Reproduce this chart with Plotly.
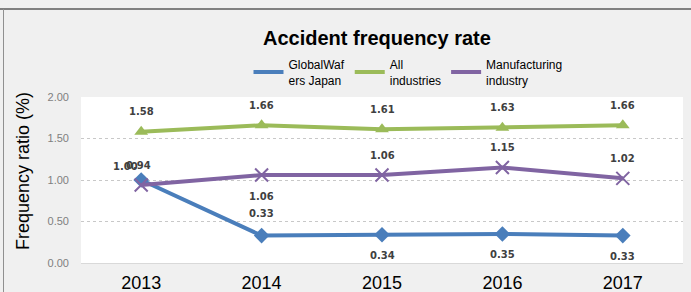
import plotly.graph_objects as go

years = [2013, 2014, 2015, 2016, 2017]
globalwafers = [1.00, 0.33, 0.34, 0.35, 0.33]
all_industries = [1.58, 1.66, 1.61, 1.63, 1.66]
manufacturing = [0.94, 1.06, 1.06, 1.15, 1.02]
names = ["GlobalWaf<br>ers Japan", "All<br>industries", "Manufacturing<br>industry"]
y_ticks = [0, 0.5, 1.0, 1.5, 2.0]

# label placement: (yshift, xshift)
gw_pos = [(14, -16), (22, 0), (-21, 0), (-21, 0), (-21, 0)]
ai_pos = [(20, 0), (20, 0), (20, 0), (20, 0), (20, 0)]
mf_pos = [(19, -3), (-21, 0), (20, 0), (20, 0), (20, 0)]

colors = ["#4a7ebb", "#9bbb59", "#8064a2"]
symbols = ["diamond", "triangle-up", "x-thin"]
series = [globalwafers, all_industries, manufacturing]
positions = [gw_pos, ai_pos, mf_pos]

fig = go.Figure()
for vals, c, s in zip(series, colors, symbols):
    mk = dict(color=c, size=12, symbol=s)
    if s == "x-thin":
        mk.update(size=13, line=dict(color=c, width=2))
    fig.add_trace(go.Scatter(x=years, y=vals, mode="lines+markers",
                             line=dict(color=c, width=4), marker=mk,
                             showlegend=False, cliponaxis=False))
for n, c in zip(names, colors):
    fig.add_trace(go.Scatter(x=[None], y=[None], mode="lines", name=n,
                             line=dict(color=c, width=4)))

for vals, pos in zip(series, positions):
    for x, v, (ys, xs) in zip(years, vals, pos):
        fig.add_annotation(x=x, y=v, text=f"<b>{v:.2f}</b>", showarrow=False,
                           yshift=ys, xshift=xs,
                           font=dict(family="DejaVu Sans", size=10, color="#404040"))

fig.add_annotation(xref="paper", yref="paper", x=(377 - 81) / 602, y=1.0, yshift=72,
                   text="<b>Accident frequency rate</b>", showarrow=False,
                   font=dict(family="Liberation Sans", size=20, color="#000000"))
fig.add_annotation(xref="paper", yref="paper", x=-57 / 602, xshift=-13,
                   y=(263 - 171) / 166,
                   text="Frequency ratio (%)", showarrow=False, textangle=-90,
                   font=dict(family="Liberation Sans", size=18, color="#000000"))

fig.update_layout(
    width=691, height=292,
    margin=dict(l=81, r=8, t=97, b=29, autoexpand=False),
    paper_bgcolor="#f0f0f0", plot_bgcolor="#ffffff",
    font=dict(family="Liberation Sans", color="#000000"),
    legend=dict(orientation="h", x=(408 - 81) / 602, xanchor="center", y=1.0 + 2 / 166,
                yanchor="bottom", bgcolor="rgba(0,0,0,0)", font=dict(size=12),
                itemwidth=30, tracegroupgap=0),
    shapes=[dict(type="line", xref="paper", yref="paper", x0=-0.14, x1=1.02,
                 y0=1.0 + 88/166, y1=1.0 + 88/166, line=dict(color="#808080", width=2)),
            dict(type="line", xref="paper", yref="paper", x0=-77.5/602, x1=-77.5/602,
                 y0=-0.2, y1=1.0 + 88/166, line=dict(color="#909090", width=1))],
)
fig.update_xaxes(range=[2012.5, 2017.5], tickvals=years, showgrid=False, zeroline=False,
                 showline=True, linecolor="#d9d9d9", automargin=False, ticklabelstandoff=3,
                 linewidth=1, ticks="", tickfont=dict(size=18, color="#000000"))
fig.update_yaxes(range=[0, 2], tickvals=y_ticks, tickformat=".2f", automargin=False,
                 gridcolor="#c8c8c8", griddash="dot", gridwidth=1, zeroline=False,
                 showline=False, ticks="", ticklabelstandoff=11,
                 tickfont=dict(size=11, color="#7f7f7f"))

fig.write_html("out.html", post_script="document.body.style.margin='0';",
               config={"displayModeBar": False})
